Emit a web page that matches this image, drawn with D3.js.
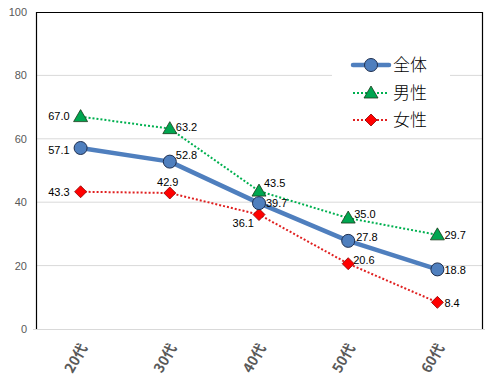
<!DOCTYPE html>
<html><head><meta charset="utf-8">
<script src="https://cdn.jsdelivr.net/npm/d3@7/dist/d3.min.js"></script>
<style>body{margin:0;background:#fff;}svg{display:block;}</style>
</head><body>
<svg id="c" width="502" height="380"></svg>
<script>
const categories = ["20代","30代","40代","50代","60代"];
const seriesNames = ["全体","男性","女性"];
const totalValues = [57.1, 52.8, 39.7, 27.8, 18.8];
const maleValues = [67.0, 63.2, 43.5, 35.0, 29.7];
const femaleValues = [43.3, 42.9, 36.1, 20.6, 8.4];
const yTicks = [0, 20, 40, 60, 80, 100];

const svg = d3.select("#c");
const L = 36, R = 482, T = 12, B = 329;
const x = d3.scaleBand().domain(categories).range([L, R]);
const cx = c => x(c) + x.bandwidth() / 2;
const y = d3.scaleLinear().domain([0, 100]).range([B, T]);

// gridlines
svg.append("g").selectAll("line").data(yTicks.filter(t => t > 0 && t < 100)).join("line")
  .attr("x1", L).attr("x2", R).attr("y1", d => y(d)).attr("y2", d => y(d))
  .attr("stroke", "#d9d9d9").attr("stroke-width", 1);

// y axis labels
const yAxis = d3.axisLeft(y).tickValues(yTicks).tickSize(0).tickPadding(9).tickFormat(d3.format("d"));
const ya = svg.append("g").attr("transform", `translate(${L},0)`).call(yAxis);
ya.select(".domain").remove();
ya.selectAll("text").attr("font-family", "Liberation Sans, Arial, sans-serif").attr("font-size", 11).attr("fill", "#595959");

// bottom axis line
svg.append("line").attr("x1", L - 3).attr("x2", R + 3).attr("y1", B + 0.5).attr("y2", B + 0.5)
  .attr("stroke", "#d9d9d9").attr("stroke-width", 1.2);
// box border (left, top, right)
svg.append("path").attr("d", `M${L + 0.5},${B} V${T + 0.5} H${R + 0.5} V${B}`)
  .attr("fill", "none").attr("stroke", "#000").attr("stroke-width", 1.2);

// x axis labels
const xAxis = d3.axisBottom(x).tickSize(0).tickPadding(0);
const xa = svg.append("g").attr("transform", `translate(0,${B})`).call(xAxis);
xa.select(".domain").remove();
xa.selectAll("text")
  .attr("font-family", "Noto Sans CJK JP, sans-serif").attr("font-size", 14).attr("font-weight", "bold")
  .attr("fill", "#595959").attr("text-anchor", "end").attr("dy", "0.35em")
  .attr("transform", "translate(3,16) rotate(-60)");

// lines
const lineGen = vals => d3.line().x((d, i) => cx(categories[i])).y(d => y(d))(vals);
svg.append("path").attr("d", lineGen(maleValues)).attr("fill", "none")
  .attr("stroke", "#00b050").attr("stroke-width", 2).attr("stroke-dasharray", "2,2");
svg.append("path").attr("d", lineGen(femaleValues)).attr("fill", "none")
  .attr("stroke", "#e02020").attr("stroke-width", 2).attr("stroke-dasharray", "2,2");
svg.append("path").attr("d", lineGen(totalValues)).attr("fill", "none")
  .attr("stroke", "#4f7fbe").attr("stroke-width", 4.5).attr("stroke-linejoin", "round");

// markers
function triangleAt(g, px, py) {
  g.append("path").attr("d", `M${px},${py - 7} L${px + 7},${py + 5} L${px - 7},${py + 5} Z`)
    .attr("fill", "#00a650").attr("stroke", "#1a3a1a").attr("stroke-width", 0.8);
}
function diamondAt(g, px, py) {
  g.append("path").attr("d", `M${px},${py - 6} L${px + 6},${py} L${px},${py + 6} L${px - 6},${py} Z`)
    .attr("fill", "#ff0000").attr("stroke", "#8b0000").attr("stroke-width", 0.8);
}
function circleAt(g, px, py) {
  g.append("circle").attr("cx", px).attr("cy", py).attr("r", 6.5)
    .attr("fill", "#4f7fbe").attr("stroke", "#1f2f4f").attr("stroke-width", 1);
}
const gm = svg.append("g");
maleValues.forEach((v, i) => triangleAt(gm, cx(categories[i]), y(v)));
femaleValues.forEach((v, i) => diamondAt(gm, cx(categories[i]), y(v)));
totalValues.forEach((v, i) => circleAt(gm, cx(categories[i]), y(v)));

// data labels: offsets [dx, dy, anchor]
const totalOff = [[-11, 2, "end"], [6, -6, "start"], [7, 0, "start"], [8, -4, "start"], [7, 1, "start"]];
const maleOff = [[-11, 0, "end"], [6, -2, "start"], [5, -8, "start"], [6, -4, "start"], [7, 0, "start"]];
const femaleOff = [[-11, 0, "end"], [-2, -11, "middle"], [-5, 9, "end"], [5, -4, "start"], [7, 1, "start"]];
const gl = svg.append("g").attr("font-family", "Liberation Sans, Arial, sans-serif").attr("font-size", 11).attr("fill", "#000");
function labels(vals, offs) {
  vals.forEach((v, i) => {
    gl.append("text").attr("x", cx(categories[i]) + offs[i][0]).attr("y", y(v) + offs[i][1])
      .attr("dy", "0.35em").attr("text-anchor", offs[i][2]).text(d3.format(".1f")(v));
  });
}
labels(totalValues, totalOff);
labels(maleValues, maleOff);
labels(femaleValues, femaleOff);

// legend
const lg = svg.append("g");
lg.append("rect").attr("x", 332).attr("y", 50).attr("width", 118).attr("height", 82).attr("fill", "#fff");
const legY = [65, 93, 120];
const lx1 = 353, lx2 = 389, lmx = 371;
lg.append("line").attr("x1", lx1).attr("x2", lx2).attr("y1", legY[0]).attr("y2", legY[0])
  .attr("stroke", "#4f7fbe").attr("stroke-width", 4.5).attr("stroke-linecap", "round");
circleAt(lg, lmx, legY[0]);
lg.append("line").attr("x1", lx1).attr("x2", lx2).attr("y1", legY[1]).attr("y2", legY[1])
  .attr("stroke", "#00b050").attr("stroke-width", 2).attr("stroke-dasharray", "2,2");
triangleAt(lg, lmx, legY[1]);
lg.append("line").attr("x1", lx1).attr("x2", lx2).attr("y1", legY[2]).attr("y2", legY[2])
  .attr("stroke", "#e02020").attr("stroke-width", 2).attr("stroke-dasharray", "2,2");
diamondAt(lg, lmx, legY[2]);
seriesNames.forEach((n, i) => {
  lg.append("text").attr("x", 393).attr("y", legY[i]).attr("dy", "0.36em")
    .attr("font-family", "Noto Sans CJK JP, sans-serif").attr("font-weight", 300)
    .attr("font-size", 17).attr("fill", "#000").text(n);
});
</script>
</body></html>
